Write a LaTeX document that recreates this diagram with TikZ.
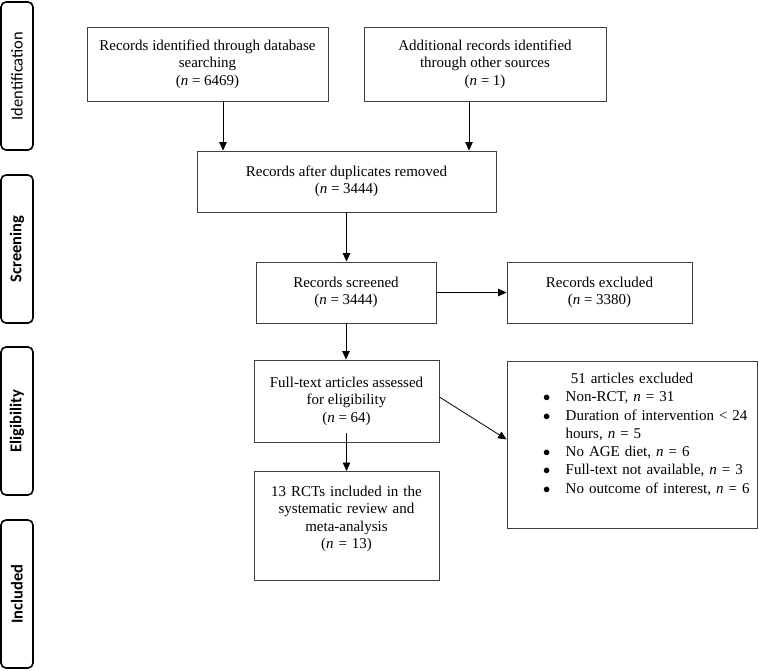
\documentclass[tikz,border=0pt]{standalone}
\usepackage{fontspec}
\setmainfont{Liberation Serif}
\newfontfamily\phasefont{Carlito}
\usetikzlibrary{arrows.meta}

\begin{document}
\begin{tikzpicture}[x=1pt,y=-1pt,
    box/.style={draw=black!75,line width=0.9pt,align=center,inner sep=0pt,
        font=\fontsize{15}{17.4}\selectfont},
    phase/.style={draw,line width=1.6pt,rounded corners=5pt,rotate=90,
        minimum width=148pt,minimum height=32pt,inner sep=0pt,
        font=\phasefont\fontsize{16.5}{18}\selectfont},
    >={Triangle[length=8.5pt,width=7.5pt]}]
    \useasboundingbox (0,0) rectangle (759,670);

    % phases
    \node[phase] (ident) at (17,76) {Identification};
    \node[phase] (screen) at (17,249) {\bfseries Screening};
    \node[phase] (elig) at (17,421) {\bfseries Eligibility};
    \node[phase] (incl) at (17,594) {\bfseries Included};

    % boxes
    \node[box,minimum width=241pt,minimum height=74pt] (database) at (207.5,64)
        {Records identified through database\\searching\\(\textit{n} = 6469)};
    \node[box,minimum width=242pt,minimum height=74pt] (other) at (485,64)
        {Additional records identified\\through other sources\\(\textit{n} = 1)};
    \node[box,minimum width=299pt,minimum height=61pt] (dedup) at (346.5,181.5)
        {Records after duplicates removed\\(\textit{n} = 3444)};
    \node[box,minimum width=180pt,minimum height=61pt] (screened) at (346,292.5)
        {Records screened\\(\textit{n} = 3444)};
    \node[box,minimum width=185pt,minimum height=61pt] (excluded) at (599.5,292.5)
        {Records excluded\\(\textit{n} = 3380)};
    \node[box,minimum width=185pt,minimum height=82pt] (fulltext) at (346.5,401)
        {Full-text articles assessed\\for eligibility\\(\textit{n} = 64)};
    \node[box,anchor=north,text width=250pt,align=left,text height=22pt,text depth=145pt,
        font=\fontsize{15}{18.3}\selectfont] (reasons) at (632,361)
        {\makebox[250pt]{51 articles excluded}\\
        \begin{tabular}[t]{@{\hspace{36pt}}c@{\hspace{15.5pt}}l@{}}
        $\bullet$ & Non-RCT, \textit{n} = 31\\
        $\bullet$ & Duration of intervention < 24\\
         & hours, \textit{n} = 5\\
        $\bullet$ & No AGE diet, \textit{n} = 6\\
        $\bullet$ & Full-text not available, \textit{n} = 3\\
        $\bullet$ & No outcome of interest, \textit{n} = 6
        \end{tabular}};
    \node[box,anchor=north,text width=185pt,text height=25pt,text depth=84pt] (included) at (346.5,471)
        {13 RCTs included in the\\systematic review and\\meta-analysis\\(\textit{n} = 13)};

    % arrows
    \draw[->,thick] ([xshift=15.5pt]database.south) -- ([xshift=15.5pt]database.south |- dedup.north);
    \draw[->,thick] ([xshift=-16pt]other.south) -- ([xshift=-16pt]other.south |- dedup.north);
    \draw[->,thick] (dedup.south) -- (dedup.south |- screened.north);
    \draw[->,thick] (screened.east) -- (excluded.west);
    \draw[->,thick] (screened.south) -- (screened.south |- fulltext.north);
    \draw[->,thick] ([yshift=4pt]fulltext.east) -- ([yshift=5.5pt]reasons.west);
    \draw[->,thick] ([yshift=9pt]fulltext.south) -- (fulltext.south |- included.north);
\end{tikzpicture}
\end{document}
